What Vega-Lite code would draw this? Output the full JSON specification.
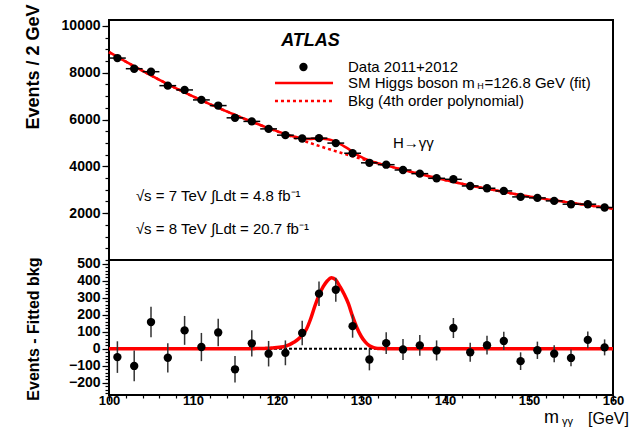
{
  "$schema": "https://vega.github.io/schema/vega-lite/v6.json",
  "background": "white",
  "padding": {"left": 22, "top": 3, "right": 0, "bottom": 0},
  "spacing": 0,
  "bounds": "flush",
  "config": {
    "view": {"stroke": "black", "strokeWidth": 2},
    "font": "Liberation Sans",
    "axis": {"grid": false, "domain": false, "tickColor": "black", "tickWidth": 1.2, "labelColor": "black", "labelFont": "Liberation Sans", "labelFontSize": 14, "labelFontWeight": "bold", "titleFont": "Liberation Sans", "titleColor": "black", "format": "d"}
  },
  "datasets": {
    "pts": [
      {"m": 101, "lo": 100, "hi": 102, "n": 8624, "res": -49, "err": 93},
      {"m": 103, "lo": 102, "hi": 104, "n": 8170, "res": -101, "err": 90},
      {"m": 105, "lo": 104, "hi": 106, "n": 8042, "res": 157, "err": 90},
      {"m": 107, "lo": 106, "hi": 108, "n": 7446, "res": -53, "err": 86},
      {"m": 109, "lo": 108, "hi": 110, "n": 7263, "res": 108, "err": 85},
      {"m": 111, "lo": 110, "hi": 112, "n": 6837, "res": 10, "err": 83},
      {"m": 113, "lo": 112, "hi": 114, "n": 6595, "res": 96, "err": 81},
      {"m": 115, "lo": 114, "hi": 116, "n": 6072, "res": -121, "err": 78},
      {"m": 117, "lo": 116, "hi": 118, "n": 5920, "res": 32, "err": 77},
      {"m": 119, "lo": 118, "hi": 120, "n": 5600, "res": -29, "err": 75},
      {"m": 121, "lo": 120, "hi": 122, "n": 5332, "res": -24, "err": 73},
      {"m": 123, "lo": 122, "hi": 124, "n": 5191, "res": 93, "err": 72},
      {"m": 125, "lo": 124, "hi": 126, "n": 5205, "res": 324, "err": 72},
      {"m": 127, "lo": 126, "hi": 128, "n": 4993, "res": 347, "err": 71},
      {"m": 129, "lo": 128, "hi": 130, "n": 4560, "res": 133, "err": 68},
      {"m": 131, "lo": 130, "hi": 132, "n": 4150, "res": -63, "err": 64},
      {"m": 133, "lo": 132, "hi": 134, "n": 4071, "res": 33, "err": 64},
      {"m": 135, "lo": 134, "hi": 136, "n": 3844, "res": -4, "err": 62},
      {"m": 137, "lo": 136, "hi": 138, "n": 3688, "res": 20, "err": 61},
      {"m": 139, "lo": 138, "hi": 140, "n": 3489, "res": -10, "err": 59},
      {"m": 141, "lo": 140, "hi": 142, "n": 3447, "res": 122, "err": 59},
      {"m": 143, "lo": 142, "hi": 144, "n": 3162, "res": -21, "err": 56},
      {"m": 145, "lo": 144, "hi": 146, "n": 3064, "res": 21, "err": 55},
      {"m": 147, "lo": 146, "hi": 148, "n": 2950, "res": 46, "err": 54},
      {"m": 149, "lo": 148, "hi": 150, "n": 2695, "res": -73, "err": 52},
      {"m": 151, "lo": 150, "hi": 152, "n": 2652, "res": -9, "err": 51},
      {"m": 153, "lo": 152, "hi": 154, "n": 2525, "res": -29, "err": 50},
      {"m": 155, "lo": 154, "hi": 156, "n": 2383, "res": -54, "err": 49},
      {"m": 157, "lo": 156, "hi": 158, "n": 2383, "res": 52, "err": 49},
      {"m": 159, "lo": 158, "hi": 160, "n": 2242, "res": 8, "err": 47}
    ],
    "curve": [
      {"m": 100, "bkg": 8880, "sb": 8880, "sig": 0},
      {"m": 102, "bkg": 8470, "sb": 8470, "sig": 0},
      {"m": 104, "bkg": 8075, "sb": 8075, "sig": 0},
      {"m": 106, "bkg": 7695, "sb": 7695, "sig": 0},
      {"m": 108, "bkg": 7330, "sb": 7330, "sig": 0},
      {"m": 110, "bkg": 6985, "sb": 6985, "sig": 0},
      {"m": 112, "bkg": 6660, "sb": 6660, "sig": 0},
      {"m": 114, "bkg": 6350, "sb": 6350, "sig": 0},
      {"m": 116, "bkg": 6050, "sb": 6050, "sig": 0},
      {"m": 116.5, "bkg": 5978, "sb": 5978, "sig": 0},
      {"m": 117, "bkg": 5907, "sb": 5907, "sig": 0},
      {"m": 117.5, "bkg": 5836, "sb": 5837, "sig": 1},
      {"m": 118, "bkg": 5765, "sb": 5766, "sig": 1},
      {"m": 118.5, "bkg": 5697, "sb": 5699, "sig": 2},
      {"m": 119, "bkg": 5630, "sb": 5633, "sig": 3},
      {"m": 119.5, "bkg": 5562, "sb": 5567, "sig": 5},
      {"m": 120, "bkg": 5495, "sb": 5502, "sig": 7},
      {"m": 120.5, "bkg": 5430, "sb": 5440, "sig": 10},
      {"m": 121, "bkg": 5365, "sb": 5380, "sig": 15},
      {"m": 121.5, "bkg": 5300, "sb": 5324, "sig": 24},
      {"m": 122, "bkg": 5235, "sb": 5273, "sig": 38},
      {"m": 122.5, "bkg": 5173, "sb": 5228, "sig": 55},
      {"m": 123, "bkg": 5112, "sb": 5192, "sig": 80},
      {"m": 123.5, "bkg": 5051, "sb": 5166, "sig": 115},
      {"m": 124, "bkg": 4990, "sb": 5165, "sig": 175},
      {"m": 124.5, "bkg": 4931, "sb": 5181, "sig": 250},
      {"m": 125, "bkg": 4872, "sb": 5187, "sig": 315},
      {"m": 125.5, "bkg": 4813, "sb": 5178, "sig": 365},
      {"m": 126, "bkg": 4755, "sb": 5155, "sig": 400},
      {"m": 126.5, "bkg": 4700, "sb": 5118, "sig": 418},
      {"m": 127, "bkg": 4645, "sb": 5050, "sig": 405},
      {"m": 127.5, "bkg": 4590, "sb": 4955, "sig": 365},
      {"m": 128, "bkg": 4535, "sb": 4855, "sig": 320},
      {"m": 128.5, "bkg": 4482, "sb": 4747, "sig": 265},
      {"m": 129, "bkg": 4430, "sb": 4620, "sig": 190},
      {"m": 129.5, "bkg": 4377, "sb": 4502, "sig": 125},
      {"m": 130, "bkg": 4325, "sb": 4400, "sig": 75},
      {"m": 130.5, "bkg": 4276, "sb": 4316, "sig": 40},
      {"m": 131, "bkg": 4227, "sb": 4245, "sig": 18},
      {"m": 131.5, "bkg": 4178, "sb": 4185, "sig": 7},
      {"m": 132, "bkg": 4130, "sb": 4132, "sig": 2},
      {"m": 132.5, "bkg": 4084, "sb": 4085, "sig": 1},
      {"m": 133, "bkg": 4037, "sb": 4037, "sig": 0},
      {"m": 134, "bkg": 3945, "sb": 3945, "sig": 0},
      {"m": 136, "bkg": 3760, "sb": 3760, "sig": 0},
      {"m": 138, "bkg": 3585, "sb": 3585, "sig": 0},
      {"m": 140, "bkg": 3415, "sb": 3415, "sig": 0},
      {"m": 142, "bkg": 3255, "sb": 3255, "sig": 0},
      {"m": 144, "bkg": 3110, "sb": 3110, "sig": 0},
      {"m": 146, "bkg": 2975, "sb": 2975, "sig": 0},
      {"m": 148, "bkg": 2840, "sb": 2840, "sig": 0},
      {"m": 150, "bkg": 2715, "sb": 2715, "sig": 0},
      {"m": 152, "bkg": 2600, "sb": 2600, "sig": 0},
      {"m": 154, "bkg": 2495, "sb": 2495, "sig": 0},
      {"m": 156, "bkg": 2390, "sb": 2390, "sig": 0},
      {"m": 158, "bkg": 2290, "sb": 2290, "sig": 0},
      {"m": 160, "bkg": 2195, "sb": 2195, "sig": 0}
    ]
  },
  "vconcat": [
    {
      "width": 504,
      "height": 240,
      "resolve": {"axis": {"x": "independent", "y": "independent"}},
      "layer": [
        {
          "data": {"name": "curve"},
          "mark": {"type": "line", "color": "#ff0000", "strokeWidth": 2.5, "strokeDash": [3, 3], "interpolate": "monotone"},
          "encoding": {
            "x": {"field": "m", "type": "quantitative", "scale": {"domain": [100, 160], "nice": false, "zero": false}, "axis": null},
            "y": {"field": "bkg", "type": "quantitative", "scale": {"domain": [0, 10250], "nice": false, "zero": false},
                  "axis": {"orient": "left", "values": [2000, 4000, 6000, 8000, 10000], "tickSize": 7, "labelPadding": 2, "title": "Events / 2 GeV", "titleFontSize": 18, "titleFontWeight": "bold", "titleAnchor": "end", "titleAngle": -90, "titleAlign": "right", "titleBaseline": "middle", "titleX": -76, "titleY": -16}}
          }
        },
        {
          "data": {"name": "curve"},
          "mark": {"type": "line", "color": "#ff0000", "strokeWidth": 2.5, "interpolate": "monotone"},
          "encoding": {
            "x": {"field": "m", "type": "quantitative", "axis": null},
            "y": {"field": "sb", "type": "quantitative",
                  "axis": {"orient": "left", "values": [500,1000,1500,2000,2500,3000,3500,4000,4500,5000,5500,6000,6500,7000,7500,8000,8500,9000,9500,10000], "tickSize": 4, "labels": false, "title": null}}
          }
        },
        {
          "data": {"name": "pts"},
          "mark": {"type": "rule", "color": "black", "strokeWidth": 1.5},
          "encoding": {
            "x": {"field": "lo", "type": "quantitative", "axis": null},
            "x2": {"field": "hi"},
            "y": {"field": "n", "type": "quantitative", "axis": null}
          }
        },
        {
          "data": {"name": "pts"},
          "mark": {"type": "circle", "color": "black", "size": 70, "opacity": 1},
          "encoding": {
            "x": {"field": "m", "type": "quantitative", "axis": null},
            "y": {"field": "n", "type": "quantitative", "axis": null}
          }
        },
        {
          "data": {"values": [{}]},
          "mark": {"type": "text", "text": "ATLAS", "fontSize": 18, "fontWeight": "bold", "fontStyle": "italic", "align": "left", "baseline": "middle", "color": "black"},
          "encoding": {"x": {"datum": 120.5, "type": "quantitative", "axis": null}, "y": {"datum": 9353, "type": "quantitative", "axis": null}}
        },
        {
          "data": {"values": [{}]},
          "mark": {"type": "circle", "color": "black", "size": 70, "opacity": 1},
          "encoding": {"x": {"datum": 123.15, "type": "quantitative", "axis": null}, "y": {"datum": 8243, "type": "quantitative", "axis": null}}
        },
        {
          "data": {"values": [{}]},
          "mark": {"type": "text", "text": "Data 2011+2012", "fontSize": 15, "align": "left", "baseline": "middle", "color": "black"},
          "encoding": {"x": {"datum": 128.45, "type": "quantitative", "axis": null}, "y": {"datum": 8243, "type": "quantitative", "axis": null}}
        },
        {
          "data": {"values": [{}]},
          "mark": {"type": "rule", "color": "#ff0000", "strokeWidth": 2.5},
          "encoding": {"x": {"datum": 119.76, "type": "quantitative", "axis": null}, "x2": {"datum": 126.67}, "y": {"datum": 7559, "type": "quantitative", "axis": null}}
        },
        {
          "data": {"values": [{}]},
          "mark": {"type": "text", "text": "SM Higgs boson m", "fontSize": 15, "align": "left", "baseline": "middle", "color": "black"},
          "encoding": {"x": {"datum": 128.45, "type": "quantitative", "axis": null}, "y": {"datum": 7559, "type": "quantitative", "axis": null}}
        },
        {
          "data": {"values": [{}]},
          "mark": {"type": "text", "text": "H", "fontSize": 9, "align": "left", "baseline": "middle", "color": "black"},
          "encoding": {"x": {"datum": 143.85, "type": "quantitative", "axis": null}, "y": {"datum": 7432, "type": "quantitative", "axis": null}}
        },
        {
          "data": {"values": [{}]},
          "mark": {"type": "text", "text": "=126.8 GeV (fit)", "fontSize": 15, "align": "left", "baseline": "middle", "color": "black"},
          "encoding": {"x": {"datum": 144.7, "type": "quantitative", "axis": null}, "y": {"datum": 7559, "type": "quantitative", "axis": null}}
        },
        {
          "data": {"values": [{}]},
          "mark": {"type": "rule", "color": "#ff0000", "strokeWidth": 2.5, "strokeDash": [3, 3]},
          "encoding": {"x": {"datum": 119.76, "type": "quantitative", "axis": null}, "x2": {"datum": 126.67}, "y": {"datum": 6790, "type": "quantitative", "axis": null}}
        },
        {
          "data": {"values": [{}]},
          "mark": {"type": "text", "text": "Bkg (4th order polynomial)", "fontSize": 15, "align": "left", "baseline": "middle", "color": "black"},
          "encoding": {"x": {"datum": 128.45, "type": "quantitative", "axis": null}, "y": {"datum": 6790, "type": "quantitative", "axis": null}}
        },
        {
          "data": {"values": [{}]},
          "mark": {"type": "text", "text": "H→γγ", "fontSize": 15, "align": "left", "baseline": "middle", "color": "black"},
          "encoding": {"x": {"datum": 133.8, "type": "quantitative", "axis": null}, "y": {"datum": 4997, "type": "quantitative", "axis": null}}
        },
        {
          "data": {"values": [{}]},
          "mark": {"type": "text", "text": "√s = 7 TeV ∫Ldt = 4.8 fb⁻¹", "fontSize": 15, "align": "left", "baseline": "middle", "color": "black"},
          "encoding": {"x": {"datum": 103.2, "type": "quantitative", "axis": null}, "y": {"datum": 2733, "type": "quantitative", "axis": null}}
        },
        {
          "data": {"values": [{}]},
          "mark": {"type": "text", "text": "√s = 8 TeV ∫Ldt = 20.7 fb⁻¹", "fontSize": 15, "align": "left", "baseline": "middle", "color": "black"},
          "encoding": {"x": {"datum": 103.2, "type": "quantitative", "axis": null}, "y": {"datum": 1324, "type": "quantitative", "axis": null}}
        }
      ]
    },
    {
      "width": 504,
      "height": 135,
      "resolve": {"axis": {"x": "independent", "y": "independent"}},
      "layer": [
        {
          "data": {"name": "curve"},
          "mark": {"type": "line", "color": "black", "strokeWidth": 2, "strokeDash": [3, 2]},
          "encoding": {
            "x": {"field": "m", "type": "quantitative", "scale": {"domain": [100, 160], "nice": false, "zero": false},
                  "axis": {"orient": "bottom", "values": [100, 110, 120, 130, 140, 150, 160], "tickSize": 6, "labelPadding": -7, "labelDx": 7, "labelFontSize": 13, "labelFlush": false, "title": null}},
            "y": {"datum": 0, "type": "quantitative", "scale": {"domain": [-272, 522], "nice": false, "zero": false},
                  "axis": {"orient": "left", "values": [-200, -100, 0, 100, 200, 300, 400, 500], "tickSize": 7, "labelPadding": 2, "title": "Events - Fitted bkg", "titleFontSize": 16, "titleFontWeight": "bold", "titleAnchor": "end", "titleAngle": -90, "titleAlign": "right", "titleBaseline": "middle", "titleX": -76, "titleY": -3}}
          }
        },
        {
          "data": {"name": "curve"},
          "mark": {"type": "line", "color": "#ff0000", "strokeWidth": 3.5, "interpolate": "monotone"},
          "encoding": {
            "x": {"field": "m", "type": "quantitative",
                  "axis": {"orient": "bottom", "values": [100,102,104,106,108,110,112,114,116,118,120,122,124,126,128,130,132,134,136,138,140,142,144,146,148,150,152,154,156,158,160], "tickSize": 3, "labels": false, "title": null}},
            "y": {"field": "sig", "type": "quantitative",
                  "axis": {"orient": "left", "values": [-260,-240,-220,-200,-180,-160,-140,-120,-100,-80,-60,-40,-20,0,20,40,60,80,100,120,140,160,180,200,220,240,260,280,300,320,340,360,380,400,420,440,460,480,500,520], "tickSize": 4, "labels": false, "title": null}}
          }
        },
        {
          "data": {"name": "pts"},
          "mark": {"type": "errorbar", "color": "#333333", "thickness": 1.5},
          "encoding": {
            "x": {"field": "m", "type": "quantitative", "axis": null},
            "y": {"field": "res", "type": "quantitative", "axis": null},
            "yError": {"field": "err"}
          }
        },
        {
          "data": {"name": "pts"},
          "mark": {"type": "circle", "color": "black", "size": 70, "opacity": 1},
          "encoding": {
            "x": {"field": "m", "type": "quantitative", "axis": null},
            "y": {"field": "res", "type": "quantitative", "axis": null}
          }
        },
        {
          "data": {"values": [{}]},
          "mark": {"type": "text", "text": "m", "fontSize": 18, "align": "right", "baseline": "alphabetic", "color": "black"},
          "encoding": {"x": {"datum": 153.57, "type": "quantitative", "axis": null}, "y": {"datum": -437, "type": "quantitative", "axis": null}}
        },
        {
          "data": {"values": [{}]},
          "mark": {"type": "text", "text": "γγ", "fontSize": 11, "align": "right", "baseline": "alphabetic", "color": "black"},
          "encoding": {"x": {"datum": 155.24, "type": "quantitative", "axis": null}, "y": {"datum": -449, "type": "quantitative", "axis": null}}
        },
        {
          "data": {"values": [{}]},
          "mark": {"type": "text", "text": "[GeV]", "fontSize": 16, "align": "right", "baseline": "alphabetic", "color": "black"},
          "encoding": {"x": {"datum": 161.9, "type": "quantitative", "axis": null}, "y": {"datum": -440, "type": "quantitative", "axis": null}}
        }
      ]
    }
  ]
}
